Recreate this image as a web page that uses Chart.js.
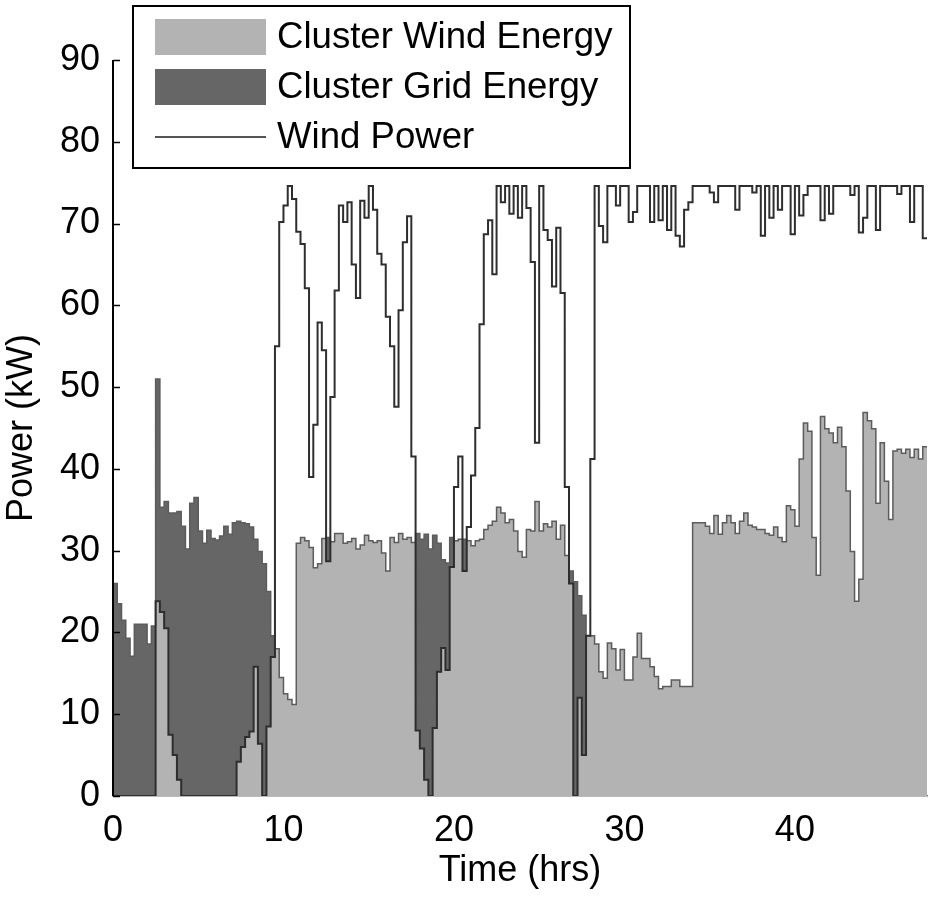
<!DOCTYPE html>
<html>
<head>
<meta charset="utf-8">
<script src="https://cdn.jsdelivr.net/npm/chart.js@4.4.0/dist/chart.umd.min.js"></script>
<style>
  body { margin: 0; background: #fff; }
  #wrap { width: 933px; height: 900px; }
</style>
</head>
<body>
<div id="wrap"><canvas id="powerChart" width="933" height="900"></canvas></div>
<script>
// one value per 15 minute sample, starting at 0 hrs (last one closes the step at 47.75)
const sampleStep = 0.25;

const windPower = [
  0, 0, 0, 0,
  0, 0, 0, 0,
  0, 0, 23.8, 22.5,
  20.5, 7.5, 5.0, 2.0,
  0, 0, 0, 0,
  0, 0, 0, 0,
  0, 0, 0, 0,
  0, 4.2, 6.0, 7.2,
  7.9, 15.8, 6.4, 0,
  8.5, 17.0, 55.0, 70.2,
  72.2, 74.6, 73.0, 69.0,
  67.5, 62.1, 39.0, 45.4,
  57.9, 54.5, 28.7, 48.8,
  61.8, 72.2, 70.2, 72.6,
  65.0, 60.9, 72.8, 70.7,
  74.6, 71.7, 66.3, 65.0,
  58.6, 55.0, 47.6, 59.4,
  67.7, 70.9, 41.5, 8.0,
  5.8, 2.0, 0, 8.3,
  15.2, 18.1, 15.4, 28.0,
  37.8, 41.5, 27.5, 32.9,
  39.2, 45.0, 57.7, 68.7,
  70.4, 63.8, 74.6, 72.6,
  74.6, 71.2, 74.6, 70.7,
  74.6, 71.9, 65.3, 43.2,
  74.6, 69.2, 68.0, 62.3,
  69.5, 61.5, 37.8, 26.0,
  0, 12.0, 5.0, 19.6,
  41.2, 74.6, 69.7, 67.7,
  74.6, 74.6, 72.2, 74.6,
  74.6, 70.2, 71.4, 74.6,
  74.6, 74.6, 70.2, 74.6,
  70.4, 74.6, 69.2, 74.6,
  68.5, 67.2, 71.7, 72.6,
  74.6, 74.6, 74.6, 74.6,
  73.8, 72.6, 74.6, 74.6,
  74.6, 74.6, 71.7, 74.6,
  74.6, 74.6, 73.8, 74.6,
  68.5, 74.6, 70.7, 74.6,
  71.7, 74.6, 74.6, 68.7,
  74.6, 71.0, 73.5, 74.6,
  74.6, 74.6, 70.4, 74.6,
  71.2, 74.6, 74.6, 74.6,
  74.6, 73.5, 74.6, 68.9,
  70.7, 74.6, 74.6, 69.2,
  74.6, 74.6, 74.6, 74.6,
  73.6, 74.6, 74.6, 70.2,
  74.6, 74.6, 68.2, 68.2
];

// total power drawn by the cluster (top of the grey areas)
const clusterLoad = [
  26.0, 23.5, 21.5, 19.3,
  17.1, 21.0, 21.0, 21.0,
  18.6, 20.8, 51.0, 35.3,
  36.0, 34.6, 34.6, 34.8,
  33.0, 30.2, 35.8, 36.5,
  32.4, 30.9, 32.5, 31.5,
  31.3, 31.8, 33.0, 32.0,
  33.4, 33.6, 33.4, 33.3,
  32.9, 31.4, 29.9, 28.4,
  25.0, 19.6, 18.0, 14.5,
  12.5, 11.8, 11.2, 30.9,
  31.6, 31.2, 30.4, 27.9,
  28.4, 31.5, 31.6, 31.1,
  32.1, 32.1, 30.9, 31.1,
  31.5, 30.2, 30.7, 31.9,
  31.2, 31.0, 31.2, 29.7,
  27.5, 31.6, 31.0, 32.1,
  31.4, 31.6, 31.0, 32.1,
  31.4, 32.0, 30.2, 31.9,
  30.9, 28.9, 28.5, 31.6,
  31.2, 31.4, 31.4, 31.2,
  30.6, 31.2, 31.4, 32.6,
  33.1, 33.6, 35.3, 34.6,
  33.4, 33.8, 32.4, 29.9,
  29.2, 32.6, 32.4, 36.0,
  32.4, 33.3, 32.9, 33.6,
  31.4, 33.1, 29.4, 27.5,
  26.2, 24.5, 22.1, 19.6,
  19.6, 18.6, 15.2, 14.4,
  18.7, 18.0, 15.4, 17.9,
  14.2, 14.2, 17.0, 19.9,
  16.8, 16.8, 15.8, 14.6,
  13.1, 13.4, 13.4, 14.2,
  14.2, 13.4, 13.4, 13.4,
  33.4, 33.4, 33.4, 33.0,
  32.1, 34.3, 32.0, 33.4,
  34.3, 33.4, 32.1, 33.6,
  34.6, 33.1, 32.9, 32.6,
  32.6, 32.1, 31.9, 32.9,
  31.6, 31.1, 35.5, 35.0,
  33.0, 41.2, 45.6, 44.6,
  31.6, 27.0, 46.4, 44.9,
  44.4, 43.2, 45.1, 42.7,
  37.3, 29.9, 23.8, 26.5,
  46.9, 45.9, 44.9, 35.8,
  43.2, 38.5, 33.8, 42.2,
  42.4, 41.9, 42.4, 41.4,
  42.4, 41.2, 42.7, 42.7
];

const xTickValues = [0, 10, 20, 30, 40];
const yTickValues = [0, 10, 20, 30, 40, 50, 60, 70, 80, 90];
const seriesLabels = ["Cluster Wind Energy", "Cluster Grid Energy", "Wind Power"];

const fontFamily = "'Liberation Sans', Arial, Helvetica, sans-serif";

function toPoints(values) {
  return values.map((v, i) => ({ x: i * sampleStep, y: v }));
}

// boxed legend in the top left corner, like the original figure
const boxLegend = {
  id: "boxLegend",
  afterDraw(chart) {
    const ctx = chart.ctx;
    const ds = chart.data.datasets;
    ctx.save();
    ctx.fillStyle = "#fff";
    ctx.fillRect(133, 6, 497, 162);
    ctx.strokeStyle = "#000";
    ctx.lineWidth = 2;
    ctx.strokeRect(133, 6, 497, 162);

    ctx.fillStyle = ds[0].backgroundColor;
    ctx.fillRect(155, 19, 111, 36);
    ctx.fillStyle = ds[1].backgroundColor;
    ctx.fillRect(155, 69, 111, 36);
    ctx.strokeStyle = "#555";
    ctx.lineWidth = 2;
    ctx.beginPath();
    ctx.moveTo(155, 137);
    ctx.lineTo(266, 137);
    ctx.stroke();

    ctx.fillStyle = "#000";
    ctx.font = "36.6px " + fontFamily;
    ctx.textBaseline = "middle";
    ctx.textAlign = "left";
    [37, 87, 137].forEach((y, i) => ctx.fillText(ds[i].label, 277, y + 1));
    ctx.restore();
  }
};

// y axis line and ticks pointing into the plot
const inwardTicks = {
  id: "inwardTicks",
  afterDatasetsDraw(chart) {
    const y = chart.scales.y;
    const ctx = chart.ctx;
    ctx.save();
    ctx.strokeStyle = "#000";
    ctx.lineWidth = 2;
    ctx.beginPath();
    ctx.moveTo(y.right, chart.chartArea.top);
    ctx.lineTo(y.right, chart.chartArea.bottom);
    ctx.stroke();
    ctx.lineWidth = 1.5;
    y.ticks.forEach((t) => {
      const py = Math.round(y.getPixelForValue(t.value)) + 0.5;
      ctx.beginPath();
      ctx.moveTo(y.right, py);
      ctx.lineTo(y.right + 7, py);
      ctx.stroke();
    });
    ctx.restore();
  }
};

const ctx = document.getElementById("powerChart").getContext("2d");

new Chart(ctx, {
  type: "line",
  data: {
    datasets: [
      {
        label: seriesLabels[0],
        data: toPoints(clusterLoad),
        stepped: true,
        backgroundColor: "#b3b3b3",
        borderColor: "#b3b3b3",
        borderWidth: 0,
        pointRadius: 0,
        fill: "origin",
        order: 3,
      },
      {
        label: seriesLabels[1],
        data: toPoints(clusterLoad),
        stepped: true,
        backgroundColor: "#666666",
        borderColor: "#5c5c5c",
        borderWidth: 1.5,
        pointRadius: 0,
        fill: { target: 2, above: "#666666", below: "rgba(0,0,0,0)" },
        order: 2,
      },
      {
        label: seriesLabels[2],
        data: toPoints(windPower),
        stepped: true,
        borderColor: "#2e2e2e",
        backgroundColor: "#2e2e2e",
        borderWidth: 2,
        pointRadius: 0,
        fill: false,
        order: 1,
      },
    ],
  },
  options: {
    responsive: false,
    animation: false,
    layout: { padding: { top: 60, right: 6, left: 0, bottom: 0 } },
    plugins: {
      legend: { display: false },
      tooltip: { enabled: false },
    },
    scales: {
      x: {
        type: "linear",
        min: 0,
        max: 47.75,
        afterBuildTicks: (s) => {
          s.ticks = xTickValues.map((v) => ({ value: v }));
        },
        afterFit: (s) => {
          s.height = 104;
        },
        grid: { display: false, drawTicks: false },
        border: { display: true, color: "#777", width: 1.5 },
        ticks: {
          color: "#000",
          font: { family: fontFamily, size: 36 },
          padding: 13,
          maxRotation: 0,
        },
        title: {
          display: true,
          text: "Time (hrs)",
          color: "#000",
          font: { family: fontFamily, size: 36 },
          padding: { top: 0, bottom: 7 },
        },
      },
      y: {
        min: 0,
        max: 90,
        afterBuildTicks: (s) => {
          s.ticks = yTickValues.map((v) => ({ value: v }));
        },
        afterFit: (s) => {
          s.width = 113;
        },
        grid: { display: false, drawTicks: false },
        border: { display: false },
        ticks: {
          color: "#000",
          font: { family: fontFamily, size: 36 },
          padding: 13,
        },
        title: {
          display: true,
          text: "Power (kW)",
          color: "#000",
          font: { family: fontFamily, size: 36 },
          padding: { top: 0, bottom: 0 },
        },
      },
    },
  },
  plugins: [inwardTicks, boxLegend],
});
</script>
</body>
</html>
